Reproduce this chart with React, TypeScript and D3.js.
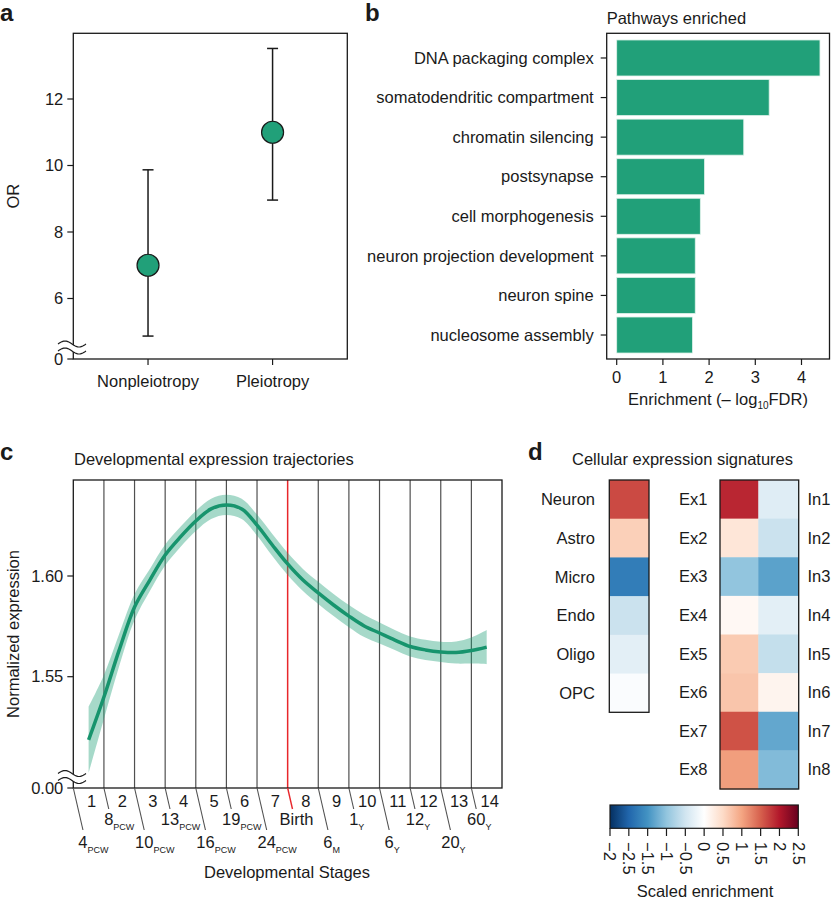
import React from "react";
import * as d3 from "d3";

const FONT = "'Liberation Sans', Arial, Helvetica, sans-serif";
const FS = 16.5;
const INK = "#1a1a1a";
const GREEN = "#21a079";
const LINE_GREEN = "#17946d";

// ---------- Panel a ----------
const orGroups = ["Nonpleiotropy", "Pleiotropy"];
const orValues = [7.0, 11.0];
const orLower = [4.87, 8.96];
const orUpper = [9.87, 13.52];
const orTicks = [6, 8, 10, 12];

// ---------- Panel b ----------
const pathways = [
  "DNA packaging complex",
  "somatodendritic compartment",
  "chromatin silencing",
  "postsynapse",
  "cell morphogenesis",
  "neuron projection development",
  "neuron spine",
  "nucleosome assembly",
];
const enrichment = [4.4, 3.3, 2.75, 1.9, 1.81, 1.7, 1.7, 1.64];
const enrichTicks = [0, 1, 2, 3, 4];

// ---------- Panel c ----------
const stagePos = [1, 1.5, 2, 2.5, 3, 3.5, 4, 4.5, 5, 5.5, 6, 6.5, 7, 7.5, 8, 8.5, 9, 9.5, 10, 10.5, 11, 11.5, 12, 12.5, 13, 13.5, 14];
const exprMean = [1.5186, 1.5399, 1.5633, 1.5846, 1.598, 1.6104, 1.6194, 1.6273, 1.6333, 1.6353, 1.6333, 1.6253, 1.6154, 1.606, 1.598, 1.5916, 1.5856, 1.5801, 1.5752, 1.5717, 1.5682, 1.565, 1.5633, 1.5623, 1.562, 1.563, 1.5647];
const exprLower = [1.5022, 1.529, 1.5553, 1.5781, 1.5925, 1.6052, 1.6144, 1.6223, 1.6283, 1.6303, 1.6283, 1.6201, 1.6099, 1.6005, 1.5925, 1.5861, 1.5801, 1.5746, 1.5697, 1.5665, 1.5632, 1.56, 1.5583, 1.5573, 1.5565, 1.5565, 1.5562];
const exprUpper = [1.535, 1.5508, 1.5713, 1.5911, 1.6035, 1.6156, 1.6244, 1.6323, 1.6383, 1.6403, 1.6383, 1.6305, 1.6209, 1.6115, 1.6035, 1.5971, 1.5911, 1.5856, 1.5807, 1.5769, 1.5732, 1.57, 1.5683, 1.5673, 1.5675, 1.5695, 1.5732];
const stageNumbers = [1, 2, 3, 4, 5, 6, 7, 8, 9, 10, 11, 12, 13, 14];
const ageMain = ["4", "8", "10", "13", "16", "19", "24", "Birth", "6", "1", "6", "12", "20", "60"];
const ageSub = ["PCW", "PCW", "PCW", "PCW", "PCW", "PCW", "PCW", "", "M", "Y", "Y", "Y", "Y", "Y"];
const exprTicks = [1.55, 1.6];
const birthIndex = 7;

// ---------- Panel d ----------
const cellTypes = ["Neuron", "Astro", "Micro", "Endo", "Oligo", "OPC"];
const cellValues = [1.65, 0.6, -1.75, -0.55, -0.3, -0.05];
const exLabels = ["Ex1", "Ex2", "Ex3", "Ex4", "Ex5", "Ex6", "Ex7", "Ex8"];
const exValues = [1.9, 0.35, -1.0, 0.1, 0.65, 0.7, 1.6, 1.05];
const inLabels = ["In1", "In2", "In3", "In4", "In5", "In6", "In7", "In8"];
const inValues = [-0.35, -0.55, -1.35, -0.3, -0.6, 0.15, -1.3, -1.1];
const cbTickValues = [-2.5, -2, -1.5, -1, -0.5, 0, 0.5, 1, 1.5, 2, 2.5];
const cbTickLabels = ["\u22122", "\u22122.5", "\u22121.5", "\u22121", "\u22120.5", "0", "0.5", "1", "1.5", "2", "2.5"];
const paletteStops = [-2.5, -2, -1.5, -1, -0.5, 0, 0.5, 1, 1.5, 2, 2.5];
const paletteColors = ["#053061", "#2166ac", "#4393c3", "#92c5de", "#d1e5f0", "#ffffff", "#fddbc7", "#f4a582", "#d6604d", "#b2182b", "#67001f"];

const heatScale = d3.scaleLinear<string>().domain(paletteStops).range(paletteColors).interpolate(d3.interpolateRgb).clamp(true);
const heatColor = (v: number) => heatScale(v);

function breakPath(x0: number, x1: number, yc: number) {
  const pts: [number, number][] = d3.range(0, 1.0001, 0.05).map((t) => [x0 + t * (x1 - x0), yc - 3 * Math.sin(2 * Math.PI * t)]);
  return d3.line()(pts) as string;
}

function AxisBreak({ x0, x1, y1, y2 }: { x0: number; x1: number; y1: number; y2: number }) {
  const top = d3.range(0, 1.0001, 0.05).map((t) => [x0 + t * (x1 - x0), y1 - 3 * Math.sin(2 * Math.PI * t)] as [number, number]);
  const bot = d3.range(1, -0.0001, -0.05).map((t) => [x0 + t * (x1 - x0), y2 - 3 * Math.sin(2 * Math.PI * t)] as [number, number]);
  const poly = d3.line()([...top, ...bot]) + "Z";
  return (
    <g>
      <path d={poly} fill="white" stroke="none" />
      <path d={breakPath(x0, x1, y1)} fill="none" stroke={INK} strokeWidth={1.2} />
      <path d={breakPath(x0, x1, y2)} fill="none" stroke={INK} strokeWidth={1.2} />
    </g>
  );
}

function PanelA() {
  const L = 73.3, R = 347.3, T = 33.3, B = 359;
  const x = d3.scalePoint<string>().domain(orGroups).range([L, R]).padding(0.6);
  const y = d3.scaleLinear().domain([6, 12]).range([298.5, 99]);
  return (
    <g>
      <text x={0} y={20.5} fontSize={24} fontWeight="bold" fill={INK}>a</text>
      {orGroups.map((g, i) => {
        const cx = x(g) as number;
        return (
          <g key={g}>
            <line x1={cx} x2={cx} y1={y(orLower[i])} y2={y(orUpper[i])} stroke={INK} strokeWidth={1.5} />
            <line x1={cx - 5.5} x2={cx + 5.5} y1={y(orLower[i])} y2={y(orLower[i])} stroke={INK} strokeWidth={1.5} />
            <line x1={cx - 5.5} x2={cx + 5.5} y1={y(orUpper[i])} y2={y(orUpper[i])} stroke={INK} strokeWidth={1.5} />
            <circle cx={cx} cy={y(orValues[i])} r={11} fill={GREEN} stroke={INK} strokeWidth={1.2} />
            <line x1={cx} x2={cx} y1={B} y2={B + 6} stroke={INK} strokeWidth={1.2} />
            <text x={cx} y={B + 28} textAnchor="middle" fontSize={FS} fill={INK}>{g}</text>
          </g>
        );
      })}
      <rect x={L} y={T} width={R - L} height={B - T} fill="none" stroke={INK} strokeWidth={1.3} />
      {orTicks.map((t) => (
        <g key={t}>
          <line x1={L - 6} x2={L} y1={y(t)} y2={y(t)} stroke={INK} strokeWidth={1.2} />
          <text x={L - 10} y={y(t)} dy="0.35em" textAnchor="end" fontSize={FS} fill={INK}>{t}</text>
        </g>
      ))}
      <line x1={L - 6} x2={L} y1={B} y2={B} stroke={INK} strokeWidth={1.2} />
      <text x={L - 10} y={B} dy="0.35em" textAnchor="end" fontSize={FS} fill={INK}>0</text>
      <AxisBreak x0={58} x1={86} y1={344} y2={351} />
      <text transform={`translate(19,${(T + B) / 2}) rotate(-90)`} textAnchor="middle" fontSize={FS} fill={INK}>OR</text>
    </g>
  );
}

function PanelB() {
  const L = 606.7, R = 829.5, T = 33.3, B = 359;
  const x = d3.scaleLinear().domain([0, 4]).range([616.7, 801.5]);
  const y = d3.scaleBand<string>().domain(pathways).range([38, 355]).paddingInner(0.09).paddingOuter(0.05);
  return (
    <g>
      <text x={365} y={20.5} fontSize={24} fontWeight="bold" fill={INK}>b</text>
      <text x={L} y={24} fontSize={FS} fill={INK}>Pathways enriched</text>
      {pathways.map((p, i) => (
        <g key={p}>
          <rect x={x(0)} y={y(p) as number} width={x(enrichment[i]) - x(0)} height={y.bandwidth()} fill={GREEN} stroke="#dff2ea" strokeWidth={0.8} />
          <line x1={L - 6} x2={L} y1={(y(p) as number) + y.bandwidth() / 2} y2={(y(p) as number) + y.bandwidth() / 2} stroke={INK} strokeWidth={1.2} />
          <text x={L - 13} y={(y(p) as number) + y.bandwidth() / 2} dy="0.35em" textAnchor="end" fontSize={FS} fill={INK}>{p}</text>
        </g>
      ))}
      <rect x={L} y={T} width={R - L} height={B - T} fill="none" stroke={INK} strokeWidth={1.3} />
      {enrichTicks.map((t) => (
        <g key={t}>
          <line x1={x(t)} x2={x(t)} y1={B} y2={B + 6} stroke={INK} strokeWidth={1.2} />
          <text x={x(t)} y={B + 24} textAnchor="middle" fontSize={FS} fill={INK}>{t}</text>
        </g>
      ))}
      <text x={718} y={405} textAnchor="middle" fontSize={FS} fill={INK}>
        Enrichment (– log<tspan fontSize={10} dy={4}>10</tspan><tspan dy={-4}>FDR)</tspan>
      </text>
    </g>
  );
}

function PanelC() {
  const L = 73.3, R = 502, T = 480, B = 788;
  const x = d3.scaleLinear().domain([0.5, 14.5]).range([L, R]);
  const y = d3.scaleLinear().domain([1.55, 1.6]).range([676.7, 576]);
  const curve = d3.curveCatmullRom.alpha(0.5);
  const area = d3.area<number>().x((_, i) => x(stagePos[i])).y0((_, i) => y(exprLower[i])).y1((_, i) => y(exprUpper[i])).curve(curve);
  const line = d3.line<number>().x((_, i) => x(stagePos[i])).y((d) => y(d)).curve(curve);
  const charW = 0.556 * FS;
  return (
    <g>
      <text x={0} y={460} fontSize={24} fontWeight="bold" fill={INK}>c</text>
      <text x={74} y={465} fontSize={FS} fill={INK}>Developmental expression trajectories</text>
      {ageMain.map((_, i) => {
        const bx = x(i + 0.5);
        if (i === 0) return null;
        return <line key={i} x1={bx} x2={bx} y1={T} y2={B} stroke={i === birthIndex ? "#e8262b" : "#505050"} strokeWidth={i === birthIndex ? 1.5 : 1.2} />;
      })}
      <path d={area(exprMean) as string} fill={GREEN} fillOpacity={0.4} />
      <path d={line(exprMean) as string} fill="none" stroke={LINE_GREEN} strokeWidth={3.5} />
      <rect x={L} y={T} width={R - L} height={B - T} fill="none" stroke={INK} strokeWidth={1.3} />
      {exprTicks.map((t) => (
        <g key={t}>
          <line x1={L - 6} x2={L} y1={y(t)} y2={y(t)} stroke={INK} strokeWidth={1.2} />
          <text x={L - 10} y={y(t)} dy="0.35em" textAnchor="end" fontSize={FS} fill={INK}>{d3.format(".2f")(t)}</text>
        </g>
      ))}
      <line x1={L - 6} x2={L} y1={B} y2={B} stroke={INK} strokeWidth={1.2} />
      <text x={L - 10} y={B} dy="0.35em" textAnchor="end" fontSize={FS} fill={INK}>0.00</text>
      <AxisBreak x0={58} x1={86} y1={773.5} y2={780.5} />
      <text transform={`translate(19,${(T + B) / 2}) rotate(-90)`} textAnchor="middle" fontSize={FS} fill={INK}>Normalized expression</text>
      {stageNumbers.map((s) => (
        <text key={s} x={x(s) + 3} y={807} textAnchor="middle" fontSize={FS} fill={INK}>{s}</text>
      ))}
      {ageMain.map((m, i) => {
        const bx = x(i + 0.5);
        const long = i % 2 === 0;
        const dy = long ? 42 : 21;
        const ex = bx + dy * 0.23;
        const isBirth = i === birthIndex;
        const mw = isBirth ? 0 : m.length * charW;
        const base = long ? 848 : 825;
        return (
          <g key={i}>
            <line x1={bx} x2={ex} y1={B} y2={B + dy} stroke={isBirth ? "#e8262b" : "#505050"} strokeWidth={isBirth ? 1.4 : 1.1} />
            {isBirth ? (
              <text x={ex + 4} y={base} textAnchor="middle" fontSize={FS} fill={INK}>{m}</text>
            ) : (
              <text x={ex - mw / 2} y={base} fontSize={FS} fill={INK}>
                {m}
                <tspan fontSize={9} dy={4.5}>{ageSub[i]}</tspan>
              </text>
            )}
          </g>
        );
      })}
      <text x={287} y={878} textAnchor="middle" fontSize={FS} fill={INK}>Developmental Stages</text>
    </g>
  );
}

function PanelD() {
  const yL = d3.scaleBand<string>().domain(cellTypes).range([480, 712.3]);
  const yR = d3.scaleBand<string>().domain(exLabels).range([480, 789]);
  const lx0 = 609.3, lx1 = 649;
  const rx0 = 720, rxm = 758.3, rx1 = 798.7;
  const cb = d3.scaleLinear().domain([-2.5, 2.5]).range([610, 798.3]);
  const stops = d3.range(0, 1.0001, 0.05);
  return (
    <g>
      <text x={528} y={460} fontSize={24} fontWeight="bold" fill={INK}>d</text>
      <text x={572} y={465} fontSize={FS} fill={INK}>Cellular expression signatures</text>
      {cellTypes.map((c, i) => (
        <g key={c}>
          <rect x={lx0} y={yL(c) as number} width={lx1 - lx0} height={yL.bandwidth() + 0.5} fill={heatColor(cellValues[i])} />
          <text x={595} y={(yL(c) as number) + yL.bandwidth() / 2} dy="0.35em" textAnchor="end" fontSize={FS} fill={INK}>{c}</text>
        </g>
      ))}
      <rect x={lx0} y={480} width={lx1 - lx0} height={712.3 - 480} fill="none" stroke={INK} strokeWidth={1.3} />
      {exLabels.map((e, i) => (
        <g key={e}>
          <rect x={rx0} y={yR(e) as number} width={rxm - rx0 + 0.5} height={yR.bandwidth() + 0.5} fill={heatColor(exValues[i])} />
          <rect x={rxm} y={yR(e) as number} width={rx1 - rxm} height={yR.bandwidth() + 0.5} fill={heatColor(inValues[i])} />
          <text x={707.5} y={(yR(e) as number) + yR.bandwidth() / 2} dy="0.35em" textAnchor="end" fontSize={FS} fill={INK}>{e}</text>
          <text x={807.5} y={(yR(e) as number) + yR.bandwidth() / 2} dy="0.35em" fontSize={FS} fill={INK}>{inLabels[i]}</text>
        </g>
      ))}
      <rect x={rx0} y={480} width={rx1 - rx0} height={789 - 480} fill="none" stroke={INK} strokeWidth={1.3} />
      <defs>
        <linearGradient id="rdbu" x1="0" x2="1" y1="0" y2="0">
          {stops.map((t) => (
            <stop key={t} offset={`${t * 100}%`} stopColor={heatColor(-2.5 + 5 * t)} />
          ))}
        </linearGradient>
      </defs>
      <rect x={610} y={805} width={798.3 - 610} height={23.3} fill="url(#rdbu)" stroke={INK} strokeWidth={1.2} />
      {cbTickValues.map((v, i) => (
        <g key={i}>
          <line x1={cb(v)} x2={cb(v)} y1={828.3} y2={836} stroke={INK} strokeWidth={1.2} />
          <text transform={`translate(${cb(v)},842) rotate(90)`} dy="0.35em" fontSize={FS} fill={INK}>{cbTickLabels[i]}</text>
        </g>
      ))}
      <text x={705} y={897} textAnchor="middle" fontSize={FS} fill={INK}>Scaled enrichment</text>
    </g>
  );
}

export default function App() {
  return (
    <svg width={831} height={900} style={{ position: "absolute", left: 0, top: 0, background: "white" }} fontFamily={FONT}>
      <rect width={831} height={900} fill="white" />
      <PanelA />
      <PanelB />
      <PanelC />
      <PanelD />
    </svg>
  );
}
